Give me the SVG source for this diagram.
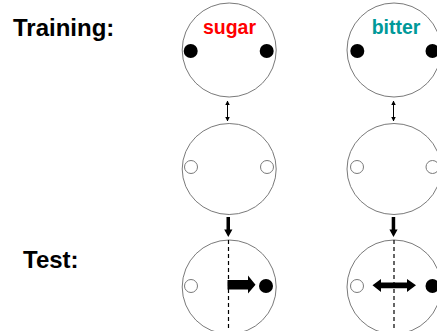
<svg xmlns="http://www.w3.org/2000/svg" width="437" height="331" viewBox="0 0 437 331">
<style>
.dish{fill:none;stroke:#7a7a7a;stroke-width:1}
.full{fill:#000}
.empty{fill:#fff;stroke:#7a7a7a;stroke-width:1}
.lbl{font-family:"Liberation Sans",Arial,sans-serif;font-weight:bold}
.mid{stroke:#000;stroke-width:1.2;stroke-dasharray:4,3;fill:none}
.thin{stroke:#000;stroke-width:1;fill:none;marker-start:url(#h);marker-end:url(#h)}
</style>
<defs>
<marker id="h" viewBox="0 0 10 10" refX="9" refY="5" markerWidth="4.5" markerHeight="4.5" markerUnits="userSpaceOnUse" orient="auto-start-reverse">
<path d="M0,0 L10,5 L0,10 z" fill="#000"/>
</marker>
</defs>
<rect width="437" height="331" fill="#fff"/>
<g id="title-training"><text class="lbl" x="13" y="36" font-size="24">Training:</text></g>
<g id="title-test"><text class="lbl" x="23" y="268" font-size="24">Test:</text></g>

<g id="train-sugar">
<ellipse class="dish" cx="229.2" cy="50" rx="47" ry="47"/>
<text class="lbl" x="229.5" y="34" font-size="19.5" fill="#ff0000" text-anchor="middle">sugar</text>
<circle class="full" cx="190.7" cy="51" r="7"/>
<circle class="full" cx="266.7" cy="51" r="7"/>
</g>
<g id="train-bitter">
<ellipse class="dish" cx="394" cy="50" rx="47" ry="47"/>
<text class="lbl" x="396" y="34" font-size="19.5" fill="#009999" text-anchor="middle">bitter</text>
<circle class="full" cx="357.3" cy="51" r="7"/>
<circle class="full" cx="432.5" cy="51" r="7"/>
</g>

<g id="rest-sugar">
<ellipse class="dish" cx="229.2" cy="169" rx="47" ry="45.5"/>
<circle class="empty" cx="191" cy="167" r="6.5"/>
<circle class="empty" cx="267" cy="167" r="6.5"/>
</g>
<g id="rest-bitter">
<ellipse class="dish" cx="394" cy="169" rx="47" ry="45.5"/>
<circle class="empty" cx="357" cy="167" r="6.5"/>
<circle class="empty" cx="432.5" cy="167" r="6.5"/>
</g>

<g id="test-sugar">
<ellipse class="dish" cx="229.2" cy="287" rx="47" ry="47"/>
<line class="mid" x1="228.5" y1="240" x2="228.5" y2="331"/>
<circle class="empty" cx="191" cy="286" r="6.5"/>
<circle class="full" cx="266" cy="286" r="7"/>
<polygon class="full" points="227.5,280 248,280 248,275.5 255.5,284.7 248,293.5 248,289.5 227.5,289.5"/>
</g>
<g id="test-bitter">
<ellipse class="dish" cx="394" cy="287" rx="47" ry="47"/>
<line class="mid" x1="394" y1="240" x2="394" y2="331"/>
<circle class="empty" cx="357" cy="286" r="6.5"/>
<circle class="full" cx="432.5" cy="286" r="7"/>
<polygon class="full" points="372.5,285.3 381,279 381,282.5 407,282.5 407,279 416,285.3 407,292 407,288.2 381,288.2 381,292"/>
</g>

<g id="connectors">
<line class="thin" x1="227.5" y1="101" x2="227.5" y2="121"/>
<line class="thin" x1="393.5" y1="101" x2="393.5" y2="121"/>
<polygon class="full" points="226.5,217 230,217 230,229.5 232.4,229.5 228.3,237 224.2,229.5 226.5,229.5"/>
<polygon class="full" points="391.7,217 395.2,217 395.2,229.5 397.6,229.5 393.5,237 389.4,229.5 391.7,229.5"/>
</g>
</svg>
